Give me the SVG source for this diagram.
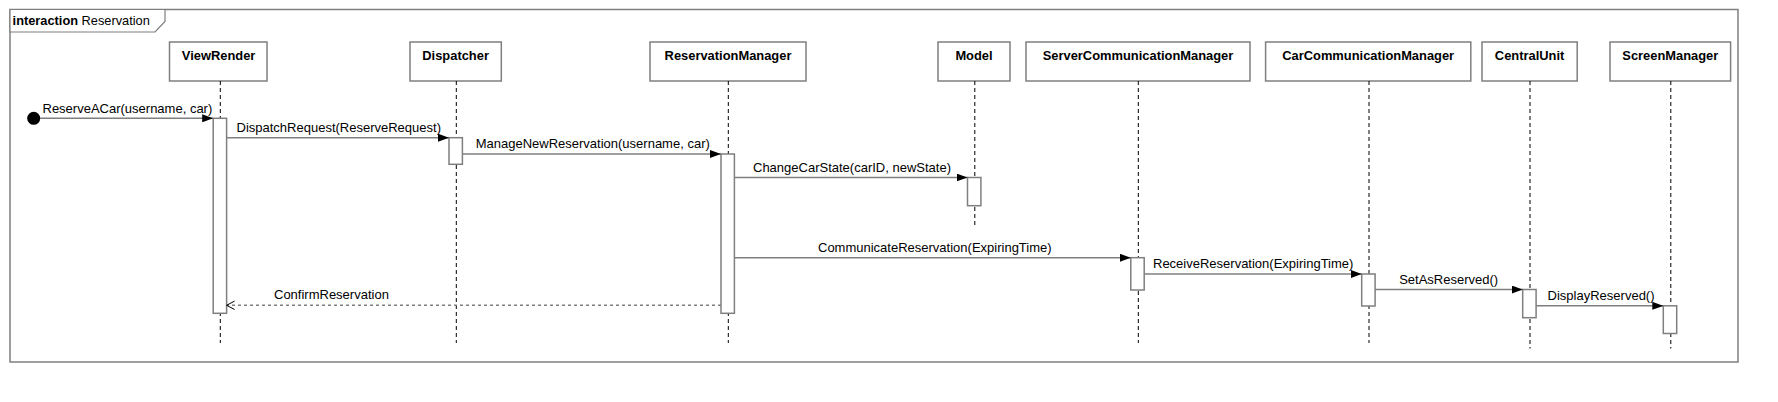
<svg xmlns="http://www.w3.org/2000/svg" width="1778" height="402" viewBox="0 0 1778 402">
<style>
.frame{fill:none;stroke:#7f7f7f;stroke-width:1.5}
.tab{fill:#fff;stroke:#7f7f7f;stroke-width:1.2}
.box{fill:#fff;stroke:#7f7f7f;stroke-width:1.5}
.act{fill:#fff;stroke:#7f7f7f;stroke-width:1.5}
.life{stroke:#000;stroke-width:1;stroke-dasharray:4,3;fill:none}
.msg{stroke:#7f7f7f;stroke-width:1.5;fill:none;marker-end:url(#filled)}
.ret{stroke:#7f7f7f;stroke-width:1.5;fill:none;stroke-dasharray:3,3;marker-end:url(#open)}
.hdr{font-family:"Liberation Sans",Arial,sans-serif;font-size:12.9px;font-weight:bold;fill:#000;text-anchor:middle}
.lbl{font-family:"Liberation Sans",Arial,sans-serif;font-size:13px;fill:#000}
</style>
<defs>
<marker id="filled" viewBox="0 0 11 8" refX="11" refY="4" markerWidth="11" markerHeight="8" markerUnits="userSpaceOnUse" orient="auto">
<path d="M0,0 L11,4 L0,8 z" fill="#000"/>
</marker>
<marker id="open" viewBox="0 0 10 10" refX="9" refY="5" markerWidth="10" markerHeight="10" markerUnits="userSpaceOnUse" orient="auto">
<path d="M1,0.8 L9,5 L1,9.2" fill="none" stroke="#000" stroke-width="1"/>
</marker>
</defs>
<rect width="1778" height="402" fill="#fff"/>
<g id="frame">
<rect class="frame" x="10" y="9.5" width="1728" height="352.5"/>
<path class="tab" d="M10,9.5 L165,9.5 L165,21.5 L155,32 L10,32 Z"/>
<text x="12.6" y="25" font-family="'Liberation Sans',Arial,sans-serif" font-size="12.8px" fill="#000"><tspan font-weight="bold">interaction</tspan> Reservation</text>
</g>
<g id="start">
<circle cx="33.7" cy="118.3" r="6.5" fill="#000"/>
</g>
<g id="ViewRender">
<rect class="box" x="169.5" y="42" width="97.5" height="39"/>
<text class="hdr" x="218.6" y="59.6">ViewRender</text>
<line class="life" x1="220.3" y1="81" x2="220.3" y2="343"/>
<rect class="act" x="213.2" y="118.3" width="13.4" height="195"/>
</g>
<g id="Dispatcher">
<rect class="box" x="410" y="42" width="91.3" height="39"/>
<text class="hdr" x="455.6" y="59.6">Dispatcher</text>
<line class="life" x1="456.3" y1="81" x2="456.3" y2="343"/>
<rect class="act" x="449" y="137.7" width="13.4" height="26.6"/>
</g>
<g id="ReservationManager">
<rect class="box" x="650" y="42" width="156" height="39"/>
<text class="hdr" x="728" y="59.6">ReservationManager</text>
<line class="life" x1="728.3" y1="81" x2="728.3" y2="343"/>
<rect class="act" x="721" y="154" width="13.4" height="159.3"/>
</g>
<g id="Model">
<rect class="box" x="938" y="42" width="72" height="39"/>
<text class="hdr" x="974" y="59.6">Model</text>
<line class="life" x1="974.8" y1="81" x2="974.8" y2="227.5"/>
<rect class="act" x="967.5" y="177.5" width="13.4" height="28.2"/>
</g>
<g id="ServerCommunicationManager">
<rect class="box" x="1026" y="42" width="224" height="39"/>
<text class="hdr" x="1138" y="59.6">ServerCommunicationManager</text>
<line class="life" x1="1138.3" y1="81" x2="1138.3" y2="343"/>
<rect class="act" x="1130.8" y="257.7" width="13.4" height="32.3"/>
</g>
<g id="CarCommunicationManager">
<rect class="box" x="1265.6" y="42" width="205.2" height="39"/>
<text class="hdr" x="1368.2" y="59.6">CarCommunicationManager</text>
<line class="life" x1="1369" y1="81" x2="1369" y2="343"/>
<rect class="act" x="1361.7" y="274" width="13.4" height="32"/>
</g>
<g id="CentralUnit">
<rect class="box" x="1482" y="42" width="95.2" height="39"/>
<text class="hdr" x="1529.6" y="59.6">CentralUnit</text>
<line class="life" x1="1530" y1="81" x2="1530" y2="348.5"/>
<rect class="act" x="1522.7" y="289.5" width="13.4" height="28.2"/>
</g>
<g id="ScreenManager">
<rect class="box" x="1610" y="42" width="120.6" height="39"/>
<text class="hdr" x="1670.3" y="59.6">ScreenManager</text>
<line class="life" x1="1670.8" y1="81" x2="1670.8" y2="348.5"/>
<rect class="act" x="1663.3" y="305.8" width="13.4" height="27.7"/>
</g>
<g id="connectors">
<line class="msg" x1="40" y1="118.3" x2="213.2" y2="118.3"/>
<text class="lbl" x="42.5" y="113">ReserveACar(username, car)</text>
<line class="msg" x1="226.6" y1="137.7" x2="449" y2="137.7"/>
<text class="lbl" x="236.5" y="131.5">DispatchRequest(ReserveRequest)</text>
<line class="msg" x1="462.4" y1="154" x2="721" y2="154"/>
<text class="lbl" x="475.7" y="148">ManageNewReservation(username, car)</text>
<line class="msg" x1="734.4" y1="177.5" x2="967.5" y2="177.5"/>
<text class="lbl" x="753" y="172">ChangeCarState(carID, newState)</text>
<line class="msg" x1="734.4" y1="257.7" x2="1130.8" y2="257.7"/>
<text class="lbl" x="818" y="251.5">CommunicateReservation(ExpiringTime)</text>
<line class="msg" x1="1144.2" y1="274" x2="1361.7" y2="274"/>
<text class="lbl" x="1153" y="268">ReceiveReservation(ExpiringTime)</text>
<line class="msg" x1="1375.1" y1="289.5" x2="1522.7" y2="289.5"/>
<text class="lbl" x="1399.2" y="283.5">SetAsReserved()</text>
<line class="msg" x1="1536.1" y1="305.8" x2="1663.3" y2="305.8"/>
<text class="lbl" x="1547.6" y="299.8">DisplayReserved()</text>
<line class="ret" x1="721" y1="305.3" x2="226.6" y2="305.3"/>
<text class="lbl" x="274" y="299">ConfirmReservation</text>
</g>
</svg>
